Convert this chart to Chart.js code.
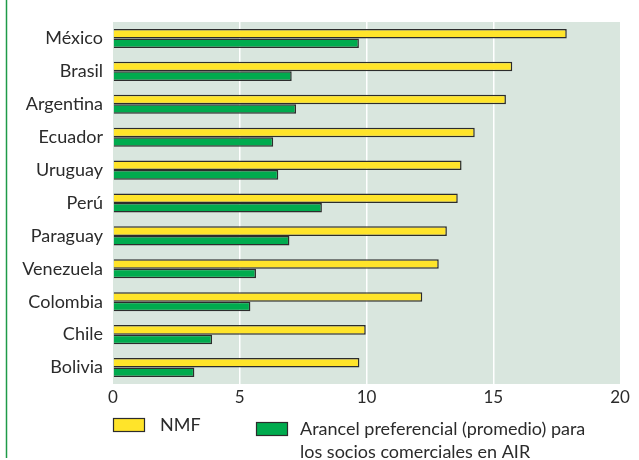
<!DOCTYPE html>
<html>
<head>
<meta charset="utf-8">
<script src="https://cdn.jsdelivr.net/npm/chart.js@4"></script>
<style>
  html, body { margin: 0; padding: 0; background: #ffffff; }
  #wrap { position: relative; width: 639px; height: 460px; }
</style>
</head>
<body>
<div id="wrap"><canvas id="c" width="639" height="460"></canvas></div>
<script>
// Países y aranceles (%)
const countries = ['México', 'Brasil', 'Argentina', 'Ecuador', 'Uruguay', 'Perú',
                   'Paraguay', 'Venezuela', 'Colombia', 'Chile', 'Bolivia'];
const nmf = [17.9, 15.75, 15.5, 14.27, 13.75, 13.6, 13.17, 12.85, 12.2, 9.97, 9.72];
const preferencial = [9.7, 7.05, 7.22, 6.32, 6.52, 8.24, 6.96, 5.64, 5.42, 3.91, 3.21];
const xTicks = [0, 5, 10, 15, 20];
const legendNames = ['NMF', ['Arancel preferencial (promedio) para', 'los socios comerciales en AIR']];

const FONT = 'Lato, "Open Sans", sans-serif';
const TEXT = '#2b2b2b';
const YELLOW = '#FFE42A';
const GREEN = '#00AB4E';
const EDGE = '#2c2c2c';

const decor = {
  id: 'decor',
  beforeDraw(chart) {
    const { ctx, chartArea: a } = chart;
    ctx.save();
    ctx.fillStyle = '#D9E6DE';
    ctx.fillRect(a.left, a.top, a.right - a.left, a.bottom - a.top);
    ctx.restore();
  },
  afterDraw(chart) {
    const { ctx, chartArea: a } = chart;
    ctx.save();
    // marco lateral verde
    ctx.strokeStyle = '#1E9A48';
    ctx.lineWidth = 1.5;
    ctx.beginPath();
    ctx.moveTo(6.5, 0);
    ctx.lineTo(6.5, 458);
    ctx.stroke();

    // leyenda
    const boxes = [
      { x: a.left, y: 418, color: YELLOW, tx: 160, lines: [legendNames[0]] },
      { x: 256, y: 422, color: GREEN, tx: 300, lines: legendNames[1] }
    ];
    ctx.font = '18px ' + FONT;
    ctx.textBaseline = 'middle';
    ctx.textAlign = 'left';
    boxes.forEach(b => {
      ctx.fillStyle = b.color;
      ctx.fillRect(b.x, b.y, 32, 14);
      ctx.strokeStyle = EDGE;
      ctx.lineWidth = 1.2;
      ctx.strokeRect(b.x + 0.5, b.y + 0.5, 31, 13);
      ctx.fillStyle = TEXT;
      b.lines.forEach((t, i) => ctx.fillText(t, b.tx, b.y + 7 + i * 23));
    });
    ctx.restore();
  }
};

new Chart(document.getElementById('c'), {
  type: 'bar',
  data: {
    labels: countries,
    datasets: [
      { label: 'NMF', data: nmf, backgroundColor: YELLOW, borderColor: EDGE, borderWidth: 1.5,
        barPercentage: 1, categoryPercentage: 0.58 },
      { label: 'Arancel preferencial', data: preferencial, backgroundColor: GREEN, borderColor: EDGE,
        borderWidth: 1.5, barPercentage: 1, categoryPercentage: 0.58 }
    ]
  },
  options: {
    indexAxis: 'y',
    responsive: false,
    animation: false,
    layout: { padding: { top: 22, right: 19, left: 0, bottom: 0 } },
    plugins: { legend: { display: false }, tooltip: { enabled: false } },
    scales: {
      x: {
        min: 0, max: 20,
        afterBuildTicks(scale) { scale.ticks = xTicks.map(v => ({ value: v })); },
        afterFit(scale) { scale.height = 76; },
        grid: {
          color: ctx => (ctx.tick && (ctx.tick.value === 0 || ctx.tick.value === 20)) ? 'rgba(0,0,0,0)' : '#ffffff',
          lineWidth: 1.5,
          drawTicks: false
        },
        border: { display: false },
        ticks: { color: TEXT, font: { family: FONT, size: 17 }, padding: 3 }
      },
      y: {
        afterFit(scale) { scale.width = 113; },
        grid: { display: false, drawTicks: false },
        border: { display: false },
        ticks: { color: TEXT, font: { family: FONT, size: 18 }, padding: 10 }
      }
    }
  },
  plugins: [decor]
});
</script>
</body>
</html>
